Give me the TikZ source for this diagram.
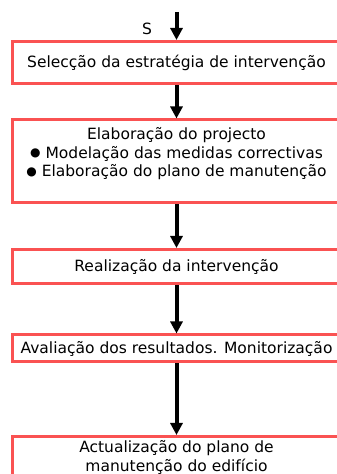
\documentclass[tikz,border=0pt]{standalone}
\usepackage{fontspec}
\setmainfont{DejaVu Sans}
\usetikzlibrary{arrows.meta}
\definecolor{boxred}{RGB}{250,82,82}
\newcommand{\dotmark}{\raisebox{1.2pt}{\fontsize{12}{12}\selectfont ●}}
\tikzset{
  stagebox/.style={draw=boxred, line width=3pt, minimum width=328pt, inner xsep=0pt,
    align=center, font=\fontsize{15.5}{18.7}\selectfont},
  flowarrow/.style={line width=4pt, -{Triangle[width=12pt,length=12pt]}}
}
\begin{document}
\begin{tikzpicture}[x=1pt,y=1pt]
    \useasboundingbox (0,0) rectangle (337,474);
    % Draw the stages of the process.
    \node[stagebox, minimum height=42.5] (select) at (176.5,411.25) {Selecção da estratégia de intervenção};
    \node[stagebox, minimum height=82.5] (project) at (176.5,312.75) {Elaboração do projecto\\
      \dotmark\ Modelação das medidas correctivas\\
      \dotmark\ Elaboração do plano de manutenção\\[-6pt] \strut};
    \node[stagebox, minimum height=42] (update) at (176.5,16.5) {Actualização do plano de\\ manutenção do edifício};
    \node[stagebox, minimum height=34.5] (execute) at (176.5,207.25) {Realização da intervenção};
    \node[stagebox, minimum height=27] (assess) at (176.5,125.5) {Avaliação dos resultados. Monitorização};
    % Draw the entry and its label.
    \coordinate (entry) at (176.5,462);
    \node[font=\fontsize{15.5}{18.7}\selectfont] (slabel) at (147,445) {S};
    % Draw the arrows between the stages.
    \draw[flowarrow] (entry) -- (select.north);
    \draw[flowarrow] (select) -- (project);
    \draw[flowarrow] (project) -- (execute);
    \draw[flowarrow] (execute) -- (assess);
    \draw[flowarrow] (assess) -- (update);
\end{tikzpicture}
\end{document}
